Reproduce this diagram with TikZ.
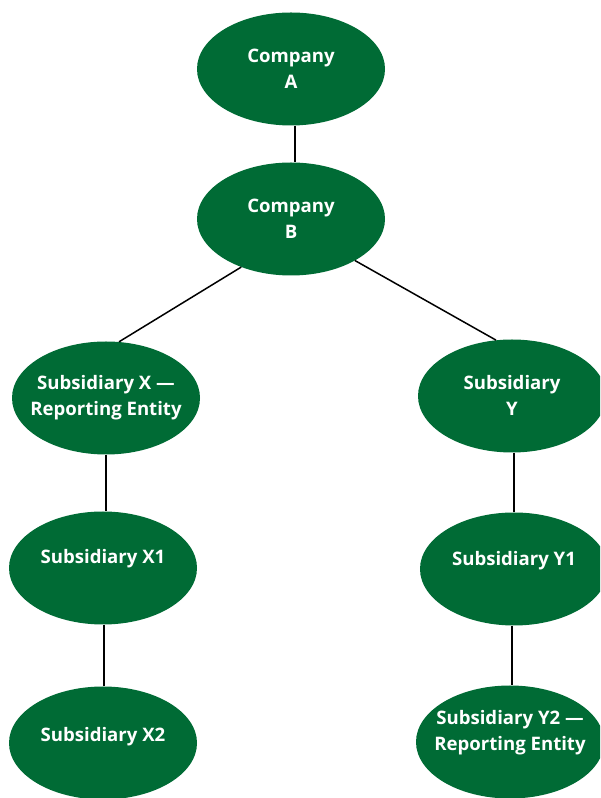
\documentclass[tikz,border=0pt]{standalone}
\usepackage{fontspec}
\setmainfont{Open Sans}
\usepackage{tikz}
\usetikzlibrary{positioning,shapes}

\definecolor{entitygreen}{HTML}{006B35}

\begin{document}
\begin{tikzpicture}[x=1pt,y=1pt,
    entity/.style={ellipse,fill=entitygreen,inner sep=0pt,
                   minimum width=188pt,minimum height=113pt},
    entitytext/.style={text=white,align=center,inner sep=0pt,
                   font=\fontsize{18.6}{26}\selectfont\bfseries},
    link/.style={line width=1.5pt,black}]
            \useasboundingbox (0,0) rectangle (600,798);
            \clip (0,0) rectangle (600,798);

            \coordinate (posA)  at (291,729);
            \coordinate (posB)  at (291,579);
            \coordinate (posX)  at (106,400);
            \coordinate (posY)  at (512,402);
            \coordinate (posX1) at (103,230);
            \coordinate (posY1) at (514,229);
            \coordinate (posX2) at (103,55);
            \coordinate (posY2) at (510,56);

            \node[entity,label={[entitytext]center:Company\\A}] (compA) at (posA) {};
            \node[entity,label={[entitytext]center:Company\\B}] (compB) at (posB) {};
            \node[entity,label={[entitytext]center:Subsidiary X ---\\Reporting Entity}] (subX) at (posX) {};
            \node[entity,label={[entitytext,yshift=1pt]center:Subsidiary\\Y}] (subY) at (posY) {};
            \node[entity,label={[entitytext,yshift=9pt]center:Subsidiary X1}] (subX1) at (posX1) {};
            \node[entity,label={[entitytext,yshift=8pt]center:Subsidiary Y1}] (subY1) at (posY1) {};
            \node[entity,label={[entitytext,yshift=6pt]center:Subsidiary X2}] (subX2) at (posX2) {};
            \node[entity,label={[entitytext,yshift=9pt]center:Subsidiary Y2 ---\\Reporting Entity}] (subY2) at (posY2) {};

            \draw[link] (compA.south) ++(4,0) -- (compB.north -| {(295,0)});
            \draw[link] (compB.224) -- (subX.77);
            \draw[link] (compB.327) -- (subY.106);
            \draw[link] (subX.south) -- (subX1.north -| subX.south);
            \draw[link] (subX1.south) ++(1,0) -- (subX2.north -| {(104,0)});
            \draw[link] (subY.south) ++(2,0) -- (subY1.north);
            \draw[link] (subY1.south) ++(-2,0) -- (subY2.north -| {(512,0)});
\end{tikzpicture}
\end{document}
